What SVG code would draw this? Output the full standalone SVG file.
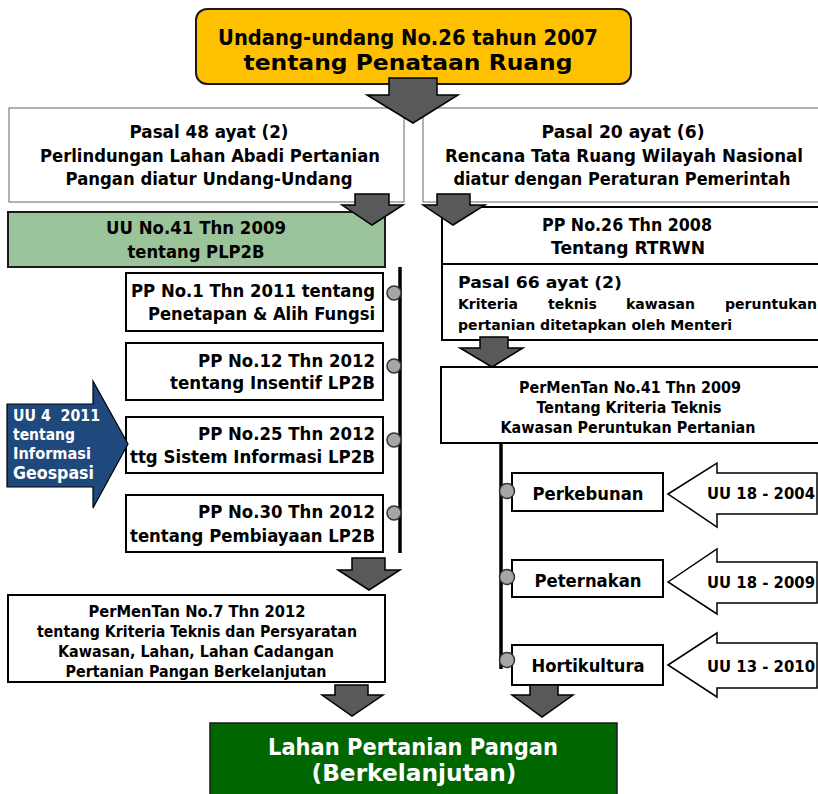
<svg xmlns="http://www.w3.org/2000/svg" width="818" height="794" viewBox="0 0 818 794">
  <style>
    text { font-family: "DejaVu Sans", Verdana, sans-serif; font-weight: bold; fill: #000; }
    .c { text-anchor: middle; }
    .r { text-anchor: end; }
    .w { fill: #fff; }
    .box { fill: #fff; stroke: #000; stroke-width: 2; }
    .thin { fill: #fff; stroke: #7f7f7f; stroke-width: 1.2; }
    .blk { fill: #595959; stroke: #000; stroke-width: 1.5; stroke-linejoin: miter; }
    .dot { fill: #a6a6a6; stroke: #333; stroke-width: 1.5; }
    .spine { stroke: #000; stroke-width: 3.5; fill: none; }
    .hollow { fill: #fff; stroke: #000; stroke-width: 1.5; }
  </style>
  <rect width="818" height="794" fill="#fff"/>

  <!-- law on spatial planning -->
  <g id="uu26">
    <rect x="196" y="9" width="435" height="75" rx="11" fill="#ffc000" stroke="#1a1a1a" stroke-width="2"/>
    <text class="c" x="408" y="45" font-size="21.5" textLength="380" lengthAdjust="spacingAndGlyphs">Undang-undang No.26 tahun 2007</text>
    <text class="c" x="408" y="70" font-size="21.5" textLength="329" lengthAdjust="spacingAndGlyphs">tentang Penataan Ruang</text>
  </g>

  <g id="pasal48">
    <rect class="thin" x="9" y="108" width="395" height="94"/>
    <text class="c" x="209" y="138" font-size="17.5" textLength="159" lengthAdjust="spacingAndGlyphs">Pasal 48 ayat (2)</text>
    <text class="c" x="210" y="162" font-size="17.5" textLength="340" lengthAdjust="spacingAndGlyphs">Perlindungan Lahan Abadi Pertanian</text>
    <text class="c" x="209" y="185" font-size="17.5" textLength="287" lengthAdjust="spacingAndGlyphs">Pangan diatur Undang-Undang</text>
  </g>

  <g id="pasal20">
    <rect class="thin" x="423" y="108" width="400" height="94"/>
    <text class="c" x="623" y="138" font-size="17.5" textLength="163" lengthAdjust="spacingAndGlyphs">Pasal 20 ayat (6)</text>
    <text class="c" x="624" y="162" font-size="17.5" textLength="358" lengthAdjust="spacingAndGlyphs">Rencana Tata Ruang Wilayah Nasional</text>
    <text class="c" x="622" y="185" font-size="17.5" textLength="337" lengthAdjust="spacingAndGlyphs">diatur dengan Peraturan Pemerintah</text>
  </g>

  <g id="uu41">
    <rect x="8" y="212" width="377" height="55" fill="#9bc49a" stroke="#1a1a1a" stroke-width="2"/>
    <text class="c" x="196" y="234" font-size="18" textLength="180" lengthAdjust="spacingAndGlyphs">UU No.41 Thn 2009</text>
    <text class="c" x="196" y="258" font-size="18" textLength="137" lengthAdjust="spacingAndGlyphs">tentang PLP2B</text>
  </g>

  <g id="pp26">
    <rect class="box" x="442" y="207" width="380" height="57"/>
    <text class="c" x="627" y="231" font-size="18" textLength="170" lengthAdjust="spacingAndGlyphs">PP No.26 Thn 2008</text>
    <text class="c" x="628" y="254" font-size="18" textLength="154" lengthAdjust="spacingAndGlyphs">Tentang RTRWN</text>
  </g>

  <g id="pasal66">
    <rect class="box" x="442" y="264" width="380" height="76" stroke-width="1.5"/>
    <text x="458" y="288" font-size="15" textLength="164" lengthAdjust="spacingAndGlyphs">Pasal 66 ayat (2)</text>
    <!-- justified middle line: words placed one by one -->
    <text x="458" y="309" font-size="14.5" textLength="60" lengthAdjust="spacingAndGlyphs">Kriteria</text>
    <text x="548" y="309" font-size="14.5" textLength="49" lengthAdjust="spacingAndGlyphs">teknis</text>
    <text x="626" y="309" font-size="14.5" textLength="69" lengthAdjust="spacingAndGlyphs">kawasan</text>
    <text x="725" y="309" font-size="14.5" textLength="92" lengthAdjust="spacingAndGlyphs">peruntukan</text>
    <text x="458" y="330" font-size="14.5" textLength="274" lengthAdjust="spacingAndGlyphs">pertanian ditetapkan oleh Menteri</text>
  </g>

  <g id="permentan41">
    <rect class="box" x="441" y="367" width="381" height="76" stroke-width="1.5"/>
    <text class="c" x="630" y="393" font-size="15.5" textLength="222" lengthAdjust="spacingAndGlyphs">PerMenTan No.41 Thn 2009</text>
    <text class="c" x="629" y="413" font-size="15.5" textLength="185" lengthAdjust="spacingAndGlyphs">Tentang Kriteria Teknis</text>
    <text class="c" x="628" y="433" font-size="15.5" textLength="255" lengthAdjust="spacingAndGlyphs">Kawasan Peruntukan Pertanian</text>
  </g>

  <!-- implementing regulations of UU 41/2009 -->
  <g id="pp1">
    <rect class="box" x="126" y="273" width="257" height="58"/>
    <text class="r" x="375" y="297" font-size="18.5" textLength="244" lengthAdjust="spacingAndGlyphs">PP No.1 Thn 2011 tentang</text>
    <text class="r" x="375" y="320" font-size="18.5" textLength="227" lengthAdjust="spacingAndGlyphs">Penetapan &amp; Alih Fungsi</text>
  </g>
  <g id="pp12">
    <rect class="box" x="126" y="343" width="257" height="57"/>
    <text class="r" x="375" y="367" font-size="18.5" textLength="177" lengthAdjust="spacingAndGlyphs">PP No.12 Thn 2012</text>
    <text class="r" x="375" y="389" font-size="18.5" textLength="205" lengthAdjust="spacingAndGlyphs">tentang Insentif LP2B</text>
  </g>
  <g id="pp25">
    <rect class="box" x="126" y="417" width="257" height="56"/>
    <text class="r" x="375" y="440" font-size="18.5" textLength="177" lengthAdjust="spacingAndGlyphs">PP No.25 Thn 2012</text>
    <text class="r" x="375" y="463" font-size="18.5" textLength="245" lengthAdjust="spacingAndGlyphs">ttg Sistem Informasi LP2B</text>
  </g>
  <g id="pp30">
    <rect class="box" x="126" y="495" width="257" height="57"/>
    <text class="r" x="375" y="518" font-size="18.5" textLength="177" lengthAdjust="spacingAndGlyphs">PP No.30 Thn 2012</text>
    <text class="r" x="375" y="542" font-size="18.5" textLength="245" lengthAdjust="spacingAndGlyphs">tentang Pembiayaan LP2B</text>
  </g>

  <g id="uu4">
    <path d="M7,404 H93 V381 L128,444 L93,508 V487 H7 Z" fill="#1f497d" stroke="#000" stroke-width="1.2"/>
    <text class="w" x="13" y="421" font-size="15.5" textLength="87" lengthAdjust="spacingAndGlyphs" xml:space="preserve">UU 4  2011</text>
    <text class="w" x="13" y="440" font-size="15.5" textLength="62" lengthAdjust="spacingAndGlyphs">tentang</text>
    <text class="w" x="13" y="459" font-size="15.5" textLength="78" lengthAdjust="spacingAndGlyphs">Informasi</text>
    <text class="w" x="13" y="479" font-size="17.5" textLength="81" lengthAdjust="spacingAndGlyphs">Geospasi</text>
  </g>

  <g id="permentan7">
    <rect class="box" x="8" y="595" width="377" height="87" stroke-width="1.5"/>
    <text class="c" x="197" y="617" font-size="15.5" textLength="217" lengthAdjust="spacingAndGlyphs">PerMenTan No.7 Thn 2012</text>
    <text class="c" x="197" y="637" font-size="15.5" textLength="320" lengthAdjust="spacingAndGlyphs">tentang Kriteria Teknis dan Persyaratan</text>
    <text class="c" x="196" y="657" font-size="15.5" textLength="276" lengthAdjust="spacingAndGlyphs">Kawasan, Lahan, Lahan Cadangan</text>
    <text class="c" x="196" y="677" font-size="15.5" textLength="261" lengthAdjust="spacingAndGlyphs">Pertanian Pangan Berkelanjutan</text>
  </g>

  <!-- sub-sectors -->
  <g id="perkebunan">
    <rect class="box" x="512" y="473" width="151" height="38" stroke-width="1.5"/>
    <text class="c" x="588" y="500" font-size="17" textLength="111" lengthAdjust="spacingAndGlyphs">Perkebunan</text>
  </g>
  <g id="peternakan">
    <rect class="box" x="512" y="560" width="151" height="37" stroke-width="1.5"/>
    <text class="c" x="588" y="587" font-size="17" textLength="107" lengthAdjust="spacingAndGlyphs">Peternakan</text>
  </g>
  <g id="hortikultura">
    <rect class="box" x="512" y="645" width="151" height="40" stroke-width="1.5"/>
    <text class="c" x="588" y="672" font-size="17" textLength="113" lengthAdjust="spacingAndGlyphs">Hortikultura</text>
  </g>

  <g id="uu18-2004">
    <path class="hollow" d="M668,494 L717,463 V473 H817 V514 H717 V527 Z"/>
    <text x="707" y="499" font-size="15.5" textLength="108" lengthAdjust="spacingAndGlyphs">UU 18 - 2004</text>
  </g>
  <g id="uu18-2009">
    <path class="hollow" d="M668,582 L717,549 V562 H817 V603 H717 V614 Z"/>
    <text x="707" y="588" font-size="15.5" textLength="108" lengthAdjust="spacingAndGlyphs">UU 18 - 2009</text>
  </g>
  <g id="uu13-2010">
    <path class="hollow" d="M668,665 L717,633 V643 H817 V688 H717 V697 Z"/>
    <text x="707" y="672" font-size="15.5" textLength="108" lengthAdjust="spacingAndGlyphs">UU 13 - 2010</text>
  </g>

  <g id="lahan">
    <rect x="210" y="723" width="407" height="80" fill="#006600" stroke="#1a1a1a" stroke-width="1.5"/>
    <text class="c w" x="413" y="755" font-size="23.5" textLength="290" lengthAdjust="spacingAndGlyphs">Lahan Pertanian Pangan</text>
    <text class="c w" x="414" y="781" font-size="23.5" textLength="205" lengthAdjust="spacingAndGlyphs">(Berkelanjutan)</text>
  </g>

  <!-- connectors -->
  <g id="connectors">
    <line class="spine" x1="400" y1="267" x2="400" y2="553"/>
    <circle class="dot" cx="394" cy="293" r="7"/>
    <circle class="dot" cx="394" cy="366" r="7"/>
    <circle class="dot" cx="394" cy="440" r="7"/>
    <circle class="dot" cx="394" cy="513" r="7"/>

    <line class="spine" x1="501" y1="443" x2="501" y2="669"/>
    <circle class="dot" cx="507" cy="491" r="7.5"/>
    <circle class="dot" cx="507" cy="577" r="7.5"/>
    <circle class="dot" cx="507" cy="660" r="7.5"/>

    <path class="blk" d="M389,78 H437 V95 H458 L413,123 L367,95 H389 Z"/>
    <path class="blk" d="M355,194 H389 V205 H403 L372,225 L342,205 H355 Z"/>
    <path class="blk" d="M437,194 H470 V205 H485 L453,225 L423,205 H437 Z"/>
    <path class="blk" d="M480,337 H508 V348 H523 L492,367 L460,348 H480 Z"/>
    <path class="blk" d="M352,558 H385 V570 H400 L369,590 L338,570 H352 Z"/>
    <path class="blk" d="M335,685 H368 V695 H383 L352,716 L322,695 H335 Z"/>
    <path class="blk" d="M530,685 H558 V695 H573 L542,717 L512,695 H530 Z"/>
  </g>
</svg>
